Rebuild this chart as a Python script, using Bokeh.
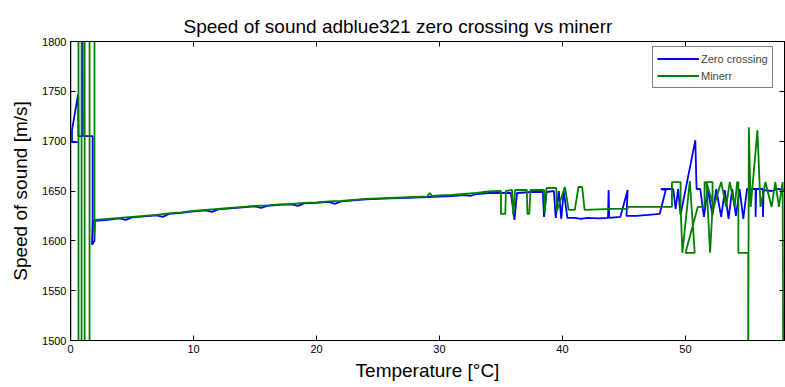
from bokeh.plotting import figure
from bokeh.models import Range1d, LinearAxis, FixedTicker
from bokeh.embed import file_html
from bokeh.resources import INLINE

# ---- data ----
zc_temp = [0.62, 0.12, 0.12, 0.62, 0.65, 0.97, 0.98, 1.0, 1.8, 1.8, 1.75, 1.95, 1.95,
           2.0, 3, 4, 4.5, 5, 6, 7, 7.5, 8, 9, 10, 11, 11.5, 12, 13, 14, 15, 15.5, 16,
           17, 18, 18.5, 19, 20, 21, 21.5, 22, 23, 24, 25, 26, 27, 28, 29, 30, 31, 32,
           32.5, 33, 34, 35, 35.8, 36.1, 36.3, 37.5, 38.4, 38.5, 38.7, 39.3, 39.45,
           39.7, 39.9, 40.1, 40.4, 41.0, 41.5, 42.0, 43.0, 43.7, 43.75, 43.8, 44.7,
           45.3, 45.2, 46.0, 47.0, 47.9, 48.4, 48.0, 49.0, 49.2, 49.4, 49.6, 50.8,
           50.9, 51.2, 51.5, 51.8, 52.2, 52.5, 52.9, 53.2, 53.5, 53.8, 54.1, 54.4,
           54.7, 55.0, 55.7, 55.7, 55.75, 56.3, 56.3, 56.35, 57.0, 57.5, 58.2]
zc_speed = [1699, 1699, 1711, 1747, 1705, 1705, 1840, 1705, 1705, 1620, 1596, 1600, 1621,
            1620, 1621, 1622.5, 1621, 1623.5, 1624.5, 1625.5, 1624, 1627, 1628, 1629.5,
            1630.5, 1629, 1631.5, 1632.5, 1633.5, 1634.5, 1633, 1635, 1636, 1636.5,
            1635, 1637.5, 1638, 1639, 1637, 1639.5, 1640.5, 1641.5, 1642, 1642.5, 1643,
            1643.5, 1644, 1644.5, 1645, 1646, 1645, 1647, 1648, 1648, 1648, 1621, 1648,
            1649, 1649, 1624, 1649, 1650, 1623, 1650, 1622, 1650, 1623, 1623, 1622,
            1623, 1622.5, 1623, 1651, 1623, 1624, 1651, 1625, 1625, 1626, 1627, 1651,
            1652, 1652, 1632, 1652, 1626, 1701, 1652, 1652, 1624, 1652, 1626, 1652,
            1624, 1651, 1622, 1652, 1625, 1652, 1622, 1652, 1652, 1624, 1652, 1652,
            1624, 1651, 1650, 1652, 1651]

mn_temp = [0.0, 0.0, 0.65, 0.65, 0.9, 0.9, 1.15, 1.15, 1.55, 1.55, 1.95, 1.95, 2.0,
           3, 4, 5, 6, 7, 8, 9, 10, 11, 12, 13, 14, 15, 16, 17, 18, 19, 20, 21, 22, 23,
           24, 25, 26, 27, 28, 29, 29.2, 29.4, 30, 31, 32, 33, 34, 35.0, 35.0, 35.35,
           35.4, 35.9, 36.0, 36.15, 37.1, 37.15, 37.3, 37.4, 38.5, 38.55, 38.7, 39.5,
           39.55, 40.2, 40.5, 41.0, 41.3, 41.6, 41.8, 44.0, 45.3, 45.3, 47.5, 48.9,
           48.9, 49.6, 49.6, 49.75, 50.35, 50.75, 50.0, 51.0, 51.4, 51.55, 51.55, 52.2,
           52.2, 52.0, 51.7, 52.3, 52.9, 53.3, 53.6, 54.0, 54.2, 54.3, 54.3, 55.1,
           55.1, 55.15, 55.3, 55.85, 56.1, 56.5, 57.0, 57.3, 57.6, 57.9, 57.95]
mn_speed = [1460, 1840, 1840, 1460, 1460, 1840, 1840, 1460, 1460, 1840, 1840, 1605,
            1621, 1622, 1623, 1624, 1625, 1626, 1627.5, 1628.5, 1630, 1631, 1632,
            1633, 1634, 1635, 1635.5, 1636.5, 1637, 1638, 1638.5, 1639.5, 1640, 1641,
            1642, 1642.5, 1643, 1643.5, 1644, 1644.5, 1648, 1645, 1645.5, 1646, 1647,
            1648, 1649.5, 1650, 1627, 1627, 1650, 1651, 1626, 1651, 1651, 1627, 1627,
            1651, 1651, 1628, 1653, 1653, 1630, 1654, 1631, 1631, 1654, 1654, 1631,
            1632, 1632, 1634, 1634, 1634, 1659, 1659, 1634, 1588, 1660, 1588, 1588,
            1634, 1634, 1634, 1659, 1659, 1634, 1588, 1659, 1634, 1659, 1634, 1659,
            1634, 1659, 1659, 1588, 1588, 1460, 1714, 1634, 1711, 1634, 1659, 1634,
            1659, 1634, 1659, 1460]

x_ticks = [0, 10, 20, 30, 40, 50]
y_ticks = [1500, 1550, 1600, 1650, 1700, 1750, 1800]

FONT = "Liberation Sans"

p = figure(width=785, height=387, output_backend="svg", toolbar_location=None,
           x_range=Range1d(0, 58.05), y_range=Range1d(1500, 1800),
           min_border_left=70, min_border_right=1, min_border_top=41,
           min_border_bottom=47,
           title="Speed of sound adblue321 zero crossing vs minerr")
p.title.text_font = FONT
p.title.text_font_size = "19px"
p.title.text_font_style = "normal"
p.title.text_color = "black"
p.title.align = "left"
p.title.offset = 113

p.xgrid.visible = False
p.ygrid.visible = False
p.outline_line_color = "black"
p.background_fill_color = "white"

p.line(zc_temp, zc_speed, line_color="#0000FF", line_width=1.8, legend_label="Zero crossing")
p.line(mn_temp, mn_speed, line_color="#008000", line_width=1.8, legend_label="Minerr")

for ax, ticks in ((p.xaxis[0], x_ticks), (p.yaxis[0], y_ticks)):
    ax.ticker = FixedTicker(ticks=ticks)
    ax.major_tick_in = 5
    ax.major_tick_out = 0
    ax.minor_tick_line_color = None
    ax.major_label_text_font = FONT
    ax.major_label_text_font_size = "11px"
    ax.major_label_text_color = "black"
    ax.axis_line_color = "black"
    ax.major_tick_line_color = "black"
    ax.axis_label_text_font = FONT
    ax.axis_label_text_font_size = "19px"
    ax.axis_label_text_font_style = "normal"
    ax.axis_label_text_color = "black"
    ax.major_label_standoff = 4

p.xaxis.axis_label = "Temperature [°C]"
p.yaxis.axis_label = "Speed of sound [m/s]"
p.xaxis.axis_label_standoff = 4
p.yaxis.axis_label_standoff = 8

# box ticks on top and right: drawn as minor ticks so no labels exist
top = LinearAxis(ticker=FixedTicker(ticks=[], minor_ticks=x_ticks),
                 minor_tick_in=5, minor_tick_out=0, major_tick_out=0,
                 minor_tick_line_color="black", axis_line_color="black")
right = LinearAxis(ticker=FixedTicker(ticks=[], minor_ticks=y_ticks),
                   minor_tick_in=5, minor_tick_out=0, major_tick_out=0,
                   minor_tick_line_color="black", axis_line_color="black")
p.add_layout(top, "above")
p.add_layout(right, "right")

lg = p.legend[0]
lg.location = (582, 252)
lg.border_line_color = "black"
lg.border_line_width = 1
lg.background_fill_color = "white"
lg.background_fill_alpha = 1
lg.label_text_font = FONT
lg.label_text_font_size = "11px"
lg.glyph_width = 42
lg.glyph_height = 15
lg.label_height = 15
lg.spacing = 2
lg.padding = 4
lg.margin = 0
lg.label_standoff = 2

open("out.html", "w").write(file_html(p, INLINE))
